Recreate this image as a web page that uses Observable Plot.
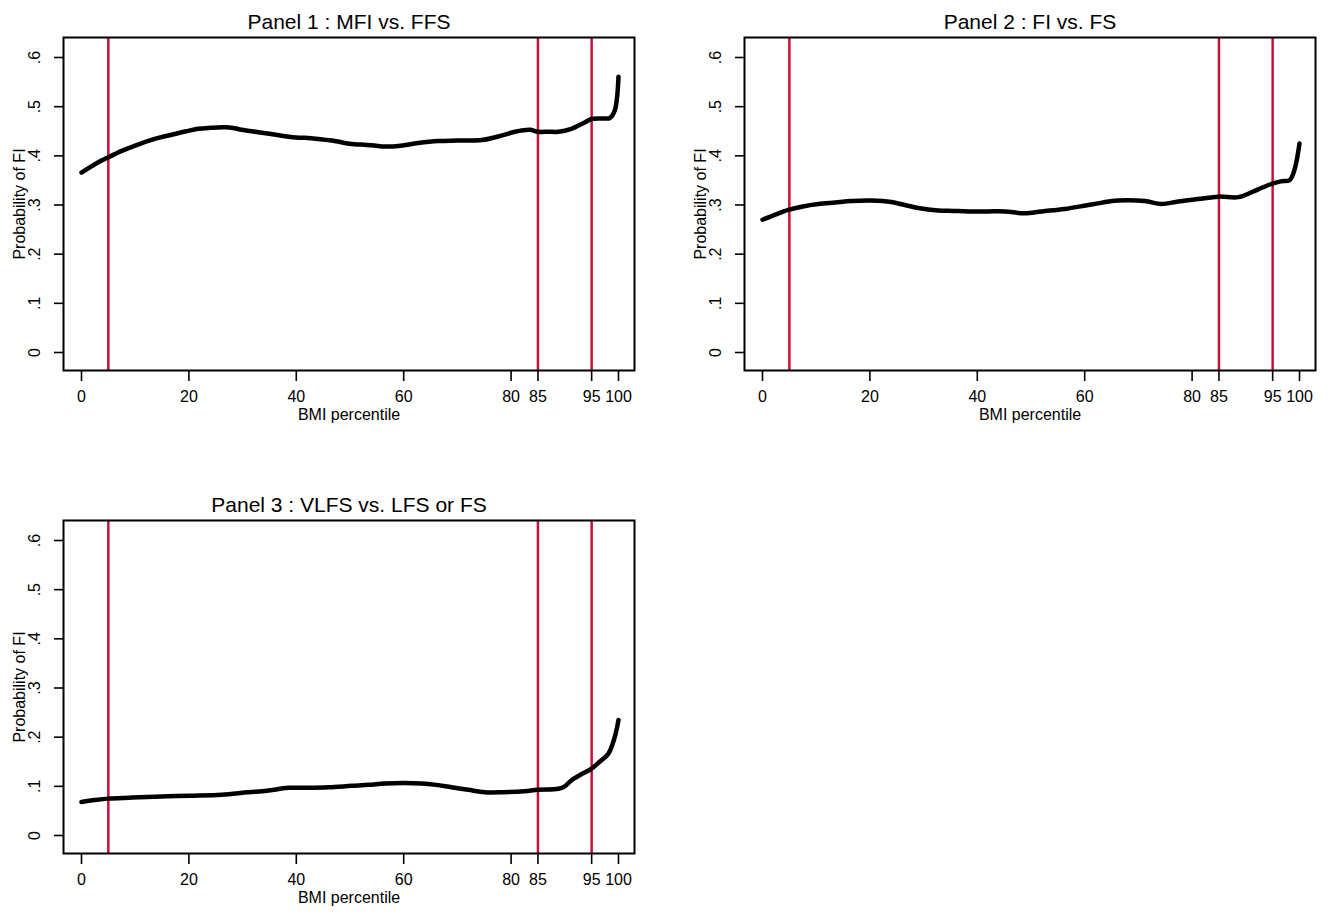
<!DOCTYPE html>
<html>
<head>
<meta charset="utf-8">
<script src="https://cdn.jsdelivr.net/npm/d3@7"></script>
<script src="https://cdn.jsdelivr.net/npm/@observablehq/plot@0.6"></script>
<style>
  html, body { margin: 0; padding: 0; background: #fff; }
  body { width: 1328px; height: 912px; position: relative; overflow: hidden; }
  .panel { position: absolute; width: 660px; height: 440px; }
  .panel svg { max-width: none !important; }
</style>
</head>
<body>
<div id="p1" class="panel" style="left:0px;top:0px"></div>
<div id="p2" class="panel" style="left:681px;top:0px"></div>
<div id="p3" class="panel" style="left:0px;top:483px"></div>
<script>
// ---- data ----
const titles = ["Panel 1 : MFI vs. FFS", "Panel 2 : FI vs. FS", "Panel 3 : VLFS vs. LFS or FS"];

const p1x = [0, 2.5, 5, 7.5, 10.5, 13.5, 16.8, 19.5, 21.7, 24, 26.7, 28.5, 29.8, 32.9, 35.5, 37.9, 40.5, 42.8, 46.6, 50.3, 52.1, 54.5, 56.5, 59, 62.7, 66.4, 70, 74.5, 78.2, 80.7, 83.5, 85, 87, 88.8, 91.2, 93.7, 95, 97, 98.4, 99.3, 100];
const p1y = [0.366, 0.383, 0.397, 0.410, 0.423, 0.434, 0.443, 0.450, 0.455, 0.457, 0.458, 0.456, 0.453, 0.448, 0.444, 0.440, 0.437, 0.436, 0.431, 0.424, 0.423, 0.421, 0.419, 0.420, 0.426, 0.430, 0.431, 0.432, 0.441, 0.449, 0.453, 0.449, 0.449, 0.449, 0.455, 0.468, 0.475, 0.476, 0.477, 0.492, 0.561];

const p2x = [0, 2.5, 4.8, 7.5, 10.4, 13.5, 16.6, 20.3, 24, 26.5, 29, 32.7, 35.5, 38.3, 42, 45.1, 48.8, 52, 56.3, 61.3, 66.2, 71.2, 74.3, 77.4, 81.1, 84.9, 88.6, 91.1, 93, 94.8, 96.5, 98.2, 99.1, 100];
const p2y = [0.270, 0.281, 0.290, 0.297, 0.302, 0.305, 0.308, 0.309, 0.306, 0.300, 0.294, 0.289, 0.288, 0.287, 0.287, 0.287, 0.283, 0.287, 0.292, 0.301, 0.309, 0.308, 0.302, 0.307, 0.312, 0.317, 0.316, 0.326, 0.335, 0.343, 0.348, 0.351, 0.373, 0.425];

const p3x = [0, 2.5, 5, 9, 13.6, 20, 26.1, 31, 34.5, 38.5, 42, 46, 50.3, 53.5, 56.5, 60, 63.3, 66, 68.9, 72, 75.1, 78.5, 82.5, 85, 88.8, 90, 91.2, 93, 95, 96.5, 98.1, 99.3, 100];
const p3y = [0.068, 0.072, 0.075, 0.077, 0.079, 0.081, 0.083, 0.088, 0.091, 0.097, 0.097, 0.098, 0.101, 0.103, 0.106, 0.107, 0.106, 0.103, 0.098, 0.093, 0.088, 0.088, 0.090, 0.093, 0.095, 0.100, 0.112, 0.124, 0.136, 0.150, 0.166, 0.200, 0.235];

const refLines = [5, 85, 95];
const xTicks = [0, 20, 40, 60, 80, 85, 95, 100];
const yTicks = [0, 0.1, 0.2, 0.3, 0.4, 0.5, 0.6];
const yTickLabels = ["0", ".1", ".2", ".3", ".4", ".5", ".6"];
const xLabel = "BMI percentile";
const yLabel = "Probability of FI";

const RED = "#c8103a";
const FONT = "'Liberation Sans', Arial, Helvetica, sans-serif";

function makePanel(title, xs, ys) {
  const data = xs.map((x, i) => ({x, y: ys[i]}));
  return Plot.plot({
    width: 660,
    height: 440,
    marginLeft: 63,
    marginRight: 26,
    marginTop: 37,
    marginBottom: 70,
    x: {domain: [0, 100], range: [81, 618]},
    y: {domain: [0, 0.6], range: [352, 57]},
    style: {fontFamily: FONT, fontSize: "16px", color: "black", background: "white", overflow: "visible", maxWidth: "none"},
    marks: [
      Plot.ruleX(refLines, {stroke: RED, strokeWidth: 2.5}),
      Plot.line(data, {x: "x", y: "y", stroke: "black", strokeWidth: 4.5, curve: "catmull-rom", strokeLinecap: "round", strokeLinejoin: "round"}),
      Plot.frame({stroke: "black", strokeWidth: 2}),
      Plot.axisX(xTicks, {
        tickSize: 11, tickPadding: 9, strokeWidth: 1.6, fontSize: 16,
        tickFormat: d => String(d),
        label: xLabel, labelAnchor: "center", labelOffset: 49, labelArrow: "none"
      }),
      Plot.axisY(yTicks, {
        tickSize: 9, tickPadding: 15, strokeWidth: 1.6, fontSize: 16,
        tickRotate: -90, textAnchor: "middle", lineAnchor: "bottom",
        tickFormat: d => yTickLabels[yTicks.indexOf(d)],
        label: yLabel, labelAnchor: "center", labelOffset: 50, labelArrow: "none"
      }),
      Plot.text([title], {frameAnchor: "top", dy: -9, lineAnchor: "bottom", fontSize: 21, fill: "black"})
    ]
  });
}

document.getElementById("p1").appendChild(makePanel(titles[0], p1x, p1y));
document.getElementById("p2").appendChild(makePanel(titles[1], p2x, p2y));
document.getElementById("p3").appendChild(makePanel(titles[2], p3x, p3y));
</script>
</body>
</html>
